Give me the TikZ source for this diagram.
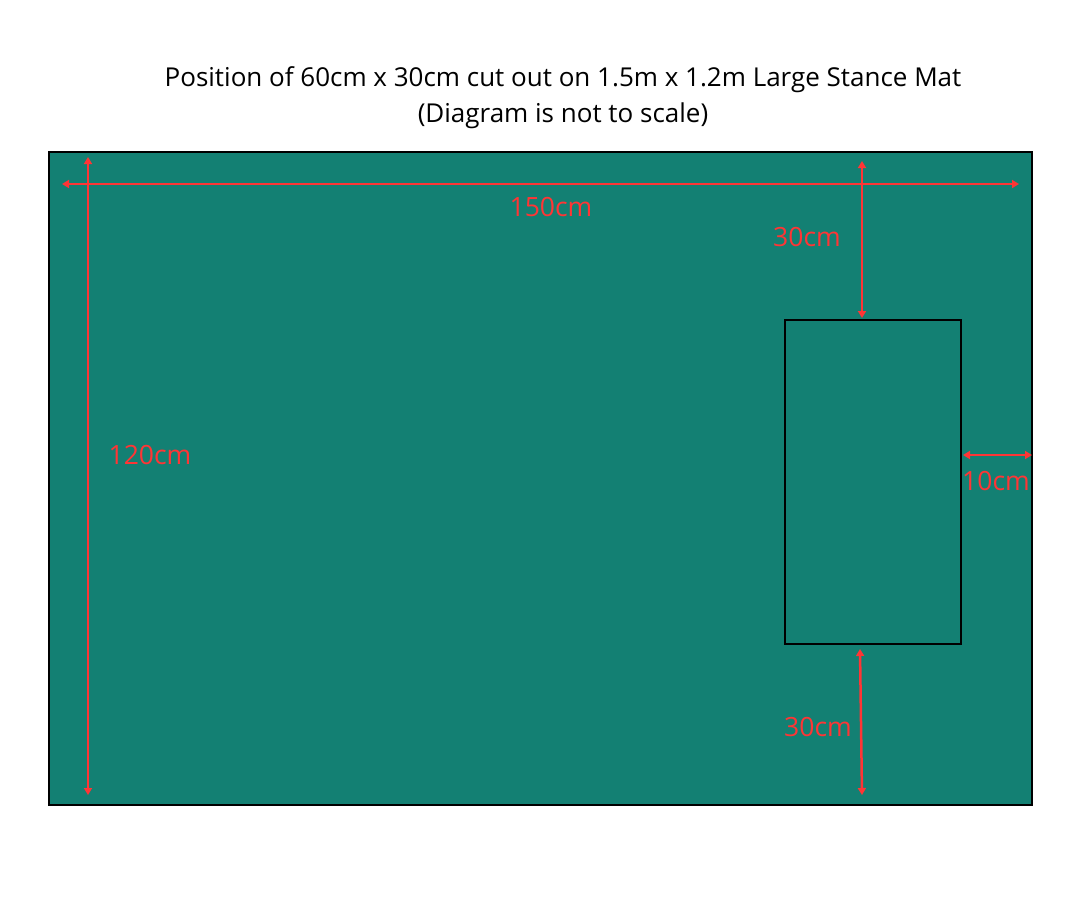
\documentclass[tikz,border=0pt]{standalone}
\usepackage{fontspec}
\setmainfont{Open Sans}
\usetikzlibrary{arrows.meta}
\definecolor{mat}{HTML}{138073}
\definecolor{dim}{HTML}{FF3535}
\tikzset{
  dimline/.style={draw=dim, line width=2.5pt, {Triangle[length=7pt,width=8pt]}-{Triangle[length=7pt,width=8pt]}},
  dimlabel/.style={text=dim, font=\fontsize{26.5}{30}\selectfont, inner sep=0pt},
  title/.style={font=\fontsize{26}{36}\selectfont, align=center, inner sep=0pt}
}
\begin{document}
\begin{tikzpicture}[x=1pt,y=-1pt]
\useasboundingbox (0,0) rectangle (1080,897);
\fill[white] (0,0) rectangle (1080,897);
\node[title] (t) at (563,98) {Position of 60cm x 30cm cut out on 1.5m x 1.2m Large Stance Mat\\(Diagram is not to scale)};
\node[draw=black, fill=mat, line width=2pt, minimum width=983pt, minimum height=653pt, inner sep=0pt] (mat) at (540.5,478.5) {};
\node[draw=black, fill=mat, line width=2pt, minimum width=176pt, minimum height=324pt, inner sep=0pt] (cut) at (873,482) {};
\coordinate (hL) at (62,184);
\coordinate (hR) at (1019,184);
\coordinate (vT) at (88,157);
\coordinate (vB) at (88,795);
\coordinate (tT) at (862,161);
\coordinate (tB) at (862,318);
\coordinate (bT) at (860,649);
\coordinate (bB) at (862,795);
\coordinate (rL) at (963,455);
\coordinate (rR) at (1032,455);
\draw[dimline] (hL) -- (hR);
\draw[dimline] (vT) -- (vB);
\draw[dimline] (tT) -- (tB);
\draw[dimline] (bT) -- (bB);
\draw[dimline] (rL) -- (rR);
\node[dimlabel] (l150) at (551,207) {150cm};
\node[dimlabel] (l30t) at (807,237) {30cm};
\node[dimlabel] (l120) at (150,455) {120cm};
\node[dimlabel] (l10) at (996,481) {10cm};
\node[dimlabel] (l30b) at (818,727) {30cm};
\end{tikzpicture}
\end{document}
